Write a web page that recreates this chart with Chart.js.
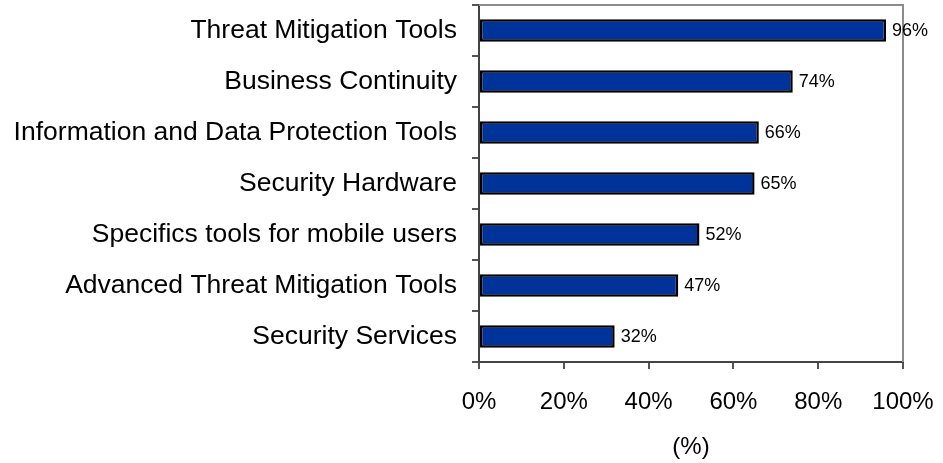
<!DOCTYPE html>
<html>
<head>
<meta charset="utf-8">
<script src="https://cdn.jsdelivr.net/npm/chart.js@4/dist/chart.umd.min.js"></script>
<style>
  html, body { margin: 0; padding: 0; background: #fff; }
  #wrap { width: 943px; height: 463px; }
</style>
</head>
<body>
<div id="wrap"><canvas id="myChart" width="943" height="463"></canvas></div>
<script>
const categories = [
  'Threat Mitigation Tools',
  'Business Continuity',
  'Information and Data Protection Tools',
  'Security Hardware',
  'Specifics tools for mobile users',
  'Advanced Threat Mitigation Tools',
  'Security Services'
];
const shares = [96, 74, 66, 65, 52, 47, 32];
const xTicks = [0, 20, 40, 60, 80, 100];

const FONT = "'Liberation Sans', Arial, sans-serif";

// value labels at the end of each bar
const valueLabels = {
  id: 'valueLabels',
  afterDatasetsDraw(chart) {
    const ctx = chart.ctx;
    const meta = chart.getDatasetMeta(0);
    ctx.save();
    ctx.font = '18px ' + FONT;
    ctx.fillStyle = '#000';
    ctx.textBaseline = 'middle';
    ctx.textAlign = 'left';
    meta.data.forEach((bar, i) => {
      ctx.fillText(shares[i] + '%', bar.x + 6, bar.y + 1);
    });
    ctx.restore();
  }
};

// grey frame on top and right of the plot area
const frame = {
  id: 'frame',
  beforeDatasetsDraw(chart) {
    const { ctx, chartArea: a } = chart;
    ctx.save();
    ctx.strokeStyle = '#8c8c8c';
    ctx.lineWidth = 2;
    ctx.beginPath();
    ctx.moveTo(a.left, a.top);
    ctx.lineTo(a.right, a.top);
    ctx.lineTo(a.right, a.bottom);
    ctx.stroke();
    ctx.restore();
  }
};

new Chart(document.getElementById('myChart'), {
  type: 'bar',
  data: {
    labels: categories,
    datasets: [{
      data: shares,
      backgroundColor: '#003399',
      borderColor: '#000',
      borderWidth: 2.5,
      borderSkipped: false,
      categoryPercentage: 1,
      barPercentage: 0.44
    }]
  },
  options: {
    indexAxis: 'y',
    responsive: false,
    animation: false,
    layout: { padding: { top: 5, right: 40, left: 0, bottom: 0 } },
    plugins: {
      legend: { display: false },
      tooltip: { enabled: false }
    },
    scales: {
      x: {
        min: 0,
        max: 100,
        afterBuildTicks: s => { s.ticks = xTicks.map(v => ({ value: v })); },
        afterFit: s => { s.height = 101; s.paddingLeft = 0; s.paddingRight = 0; },
        border: { color: '#444', width: 2 },
        grid: { drawOnChartArea: false, drawTicks: true, tickLength: 7, color: '#555', lineWidth: 2 },
        ticks: {
          color: '#000',
          font: { family: FONT, size: 24 },
          padding: 19,
          maxRotation: 0,
          callback: v => v + '%'
        },
        title: {
          display: true,
          text: '(%)',
          color: '#000',
          font: { family: FONT, size: 24 },
          padding: { top: 0, bottom: 1 }
        }
      },
      y: {
        afterFit: s => { s.width = 479; s.paddingTop = 0; s.paddingBottom = 0; },
        border: { color: '#444', width: 2 },
        grid: { offset: true, drawOnChartArea: false, drawTicks: true, tickLength: 7, color: '#555', lineWidth: 2 },
        ticks: {
          color: '#000',
          font: { family: FONT, size: 26.5 },
          padding: 15
        }
      }
    }
  },
  plugins: [frame, valueLabels]
});
</script>
</body>
</html>
